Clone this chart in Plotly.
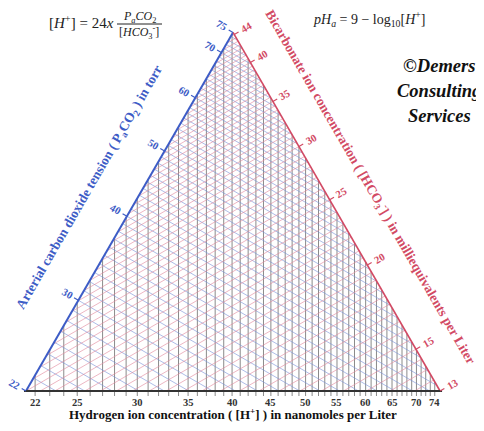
import numpy as np
import plotly.graph_objects as go

# ---------------- data ----------------
H_grid = list(range(22, 75))                 # [H+] nmol/L, vertical grey lines
P_grid = list(range(23, 76))                 # PaCO2 torr, blue lines
HCO3_grid = [v / 2 for v in range(26, 89)]   # HCO3- mEq/L 13.0 .. 44.0, red lines
H_ticks = [22, 25, 30, 35, 40, 45, 50, 55, 60, 65, 70, 74]
P_ticks = [22, 30, 40, 50, 60, 70, 75]
HCO3_ticks = [13, 15, 20, 25, 30, 35, 40, 44]

# scale limits at the triangle corners
P_lo, P_hi = 22, 75
HCO3_lo = 13
H_lo, H_hi = 21.4, 75.2

# ---------------- geometry ----------------
OFF = 8                       # page body margin
W, HT = 484 - OFF, 431 - OFF  # figure size
S = 337.6                     # pixels per unit
X0, Y0 = 26 - OFF, 391 - OFF  # figure pixel of lower-left corner

L = np.log(P_hi / P_lo)
r3 = np.sqrt(3)
e1 = np.array([0.5, r3 / 2])      # A -> C
e2 = np.array([-0.5, r3 / 2])     # B -> C
nL = np.array([-r3 / 2, 0.5])     # outward normal left edge
nR = np.array([r3 / 2, 0.5])      # outward normal right edge
A = np.array([0.0, 0.0])
B = np.array([L, 0.0])
C = np.array([L / 2, L * r3 / 2])


def px(d):
    return d / S


def hpos(h):
    return L * np.log(h / H_lo) / np.log(H_hi / H_lo)


def ppos(p):
    return A + np.log(p / P_lo) * e1


def qpos(c):
    return B + np.log(c / HCO3_lo) * e2


def paper(xp, yp):
    # page pixel -> paper fraction
    return (xp - OFF) / W, 1 - (yp - OFF) / HT


fig = go.Figure()

# vertical H lines (with tick extension below axis)
xs, ys = [], []
for h in H_grid:
    u = hpos(h)
    top = r3 * min(u, L - u)
    xs += [u, u, None]
    ys += [-px(5), top, None]
fig.add_trace(go.Scatter(x=xs, y=ys, mode="lines",
                         line=dict(color="#8a8a8a", width=1), hoverinfo="skip"))

# blue PaCO2 lines
xs, ys = [], []
d = np.array([r3 / 2, -0.5])
for p in P_grid:
    s = np.log(p / P_lo)
    st = ppos(p)
    t = r3 * min(s, L - s)
    en = st + t * d
    xs += [st[0], en[0], None]
    ys += [st[1], en[1], None]
fig.add_trace(go.Scatter(x=xs, y=ys, mode="lines",
                         line=dict(color="rgba(120,145,215,0.6)", width=1), hoverinfo="skip"))

# red HCO3 lines
xs, ys = [], []
d = np.array([-r3 / 2, -0.5])
for c in HCO3_grid:
    s = np.log(c / HCO3_lo)
    st = qpos(c)
    t = r3 * min(s, L - s)
    en = st + t * d
    xs += [st[0], en[0], None]
    ys += [st[1], en[1], None]
fig.add_trace(go.Scatter(x=xs, y=ys, mode="lines",
                         line=dict(color="rgba(225,135,155,0.6)", width=1), hoverinfo="skip"))

# triangle edges
fig.add_trace(go.Scatter(x=[A[0], C[0]], y=[A[1], C[1]], mode="lines",
                         line=dict(color="#3d5cc6", width=2), hoverinfo="skip"))
fig.add_trace(go.Scatter(x=[B[0], C[0]], y=[B[1], C[1]], mode="lines",
                         line=dict(color="#d24a64", width=1.6), hoverinfo="skip"))
fig.add_trace(go.Scatter(x=[A[0] - px(2), B[0] + px(2)], y=[0, 0], mode="lines",
                         line=dict(color="#333333", width=2), hoverinfo="skip"))

# edge ticks
xs, ys = [], []
for p in P_ticks:
    a = ppos(p)
    b = a + px(5) * nL
    xs += [a[0], b[0], None]
    ys += [a[1], b[1], None]
fig.add_trace(go.Scatter(x=xs, y=ys, mode="lines",
                         line=dict(color="#3d5cc6", width=1.2), hoverinfo="skip"))
xs, ys = [], []
for c in HCO3_ticks:
    a = qpos(c)
    b = a + px(5) * nR
    xs += [a[0], b[0], None]
    ys += [a[1], b[1], None]
fig.add_trace(go.Scatter(x=xs, y=ys, mode="lines",
                         line=dict(color="#d24a64", width=1.2), hoverinfo="skip"))

ann = []
SERIF = "Liberation Serif"
BLUE = "#3d5cc6"
RED = "#d24a64"
C_ = dict(xanchor="center", yanchor="middle", showarrow=False)

for h in H_ticks:
    ann.append(dict(x=hpos(h), y=-px(11), text=f"<b>{h}</b>", **C_,
                    font=dict(family=SERIF, size=10.5, color="#333")))
for p in P_ticks:
    q = ppos(p) + px(13) * nL
    ann.append(dict(x=q[0], y=q[1], text=f"<b>{p}</b>", textangle=30, **C_,
                    font=dict(family=SERIF, size=10.5, color=BLUE)))
for c in HCO3_ticks:
    q = qpos(c) + px(14) * nR
    ann.append(dict(x=q[0], y=q[1], text=f"<b>{c}</b>", textangle=-30, **C_,
                    font=dict(family=SERIF, size=10.5, color=RED)))

# axis titles
q = A + px(208) * e1 + px(46) * nL
ann.append(dict(x=q[0], y=q[1], textangle=-60, **C_,
                text="<b>Arterial carbon dioxide tension ( P<sub>a</sub>CO<sub>2</sub> ) in torr</b>",
                font=dict(family=SERIF, size=13.5, color=BLUE)))
q = B + px(212) * e2 + px(41) * nR
ann.append(dict(x=q[0], y=q[1], textangle=60, **C_,
                text="<b>Bicarbonate ion concentration ( [HCO<sub>3</sub><sup>-</sup>] ) in milliequivalents per Liter</b>",
                font=dict(family=SERIF, size=13.5, color=RED)))
ann.append(dict(x=L / 2, y=-px(23), **C_,
                text="<b>Hydrogen ion concentration ( [H<sup>+</sup>] ) in nanomoles per Liter</b>",
                font=dict(family=SERIF, size=13, color="#111")))


# header formulas
def pann(xp, yp, text, size, **kw):
    x, y = paper(xp, yp)
    ann.append(dict(x=x, y=y, xref="paper", yref="paper", text=text, **C_,
                    font=dict(family=SERIF, size=size, color="#222"), **kw))


pann(81, 22, "[<i>H</i><sup>+</sup>] = 24<i>x</i>", 15)
pann(139, 17, "<i>P<sub>a</sub>CO</i><sub>2</sub>", 12)
pann(139, 33, "[<i>HCO</i><sub>3</sub><sup>-</sup>]", 12)
pann(369, 19, "<i>pH<sub>a</sub></i> = 9 − log<sub>10</sub>[<i>H</i><sup>+</sup>]", 14)
for yy, t in [(66, "©Demers"), (91, "Consulting"), (116, "Services")]:
    x, y = paper(439, yy)
    ann.append(dict(x=x, y=y, xref="paper", yref="paper", text=f"<b><i>{t}</i></b>", **C_,
                    font=dict(family=SERIF, size=18.5, color="#111")))

x1, y1 = paper(117, 24)
x2, _ = paper(162, 24)
shapes = [dict(type="line", xref="paper", yref="paper", x0=x1, x1=x2, y0=y1, y1=y1,
               line=dict(color="#222", width=1))]

fig.update_layout(
    width=W, height=HT, margin=dict(l=0, r=0, t=0, b=0),
    paper_bgcolor="white", plot_bgcolor="white", showlegend=False,
    xaxis=dict(range=[-X0 / S, (W - X0) / S], visible=False, fixedrange=True),
    yaxis=dict(range=[-(HT - Y0) / S, Y0 / S], visible=False, fixedrange=True),
    annotations=ann, shapes=shapes,
)

fig.write_html("out.html")
